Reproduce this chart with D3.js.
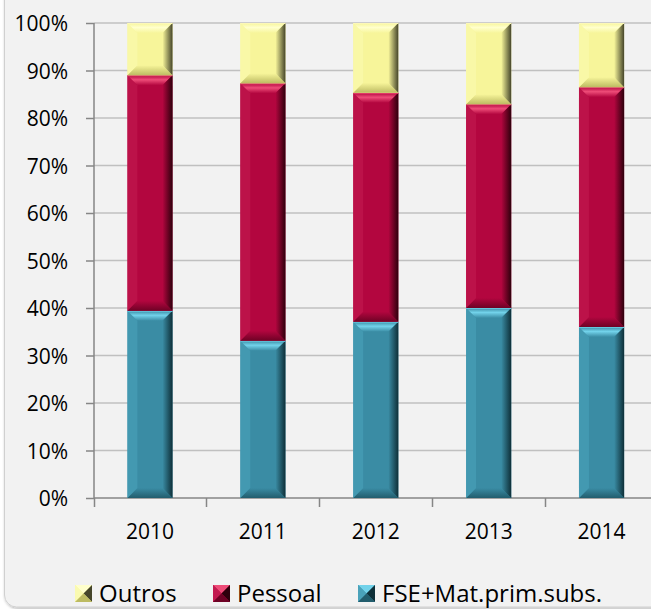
<!DOCTYPE html>
<html><head><meta charset="utf-8">
<script src="https://cdn.jsdelivr.net/npm/d3@7/dist/d3.min.js"></script>
<style>html,body{margin:0;padding:0;background:#fff;}svg{display:block;}</style>
</head><body>
<script>
const years = ["2010","2011","2012","2013","2014"];
const fse = [39.4, 33.1, 37.1, 40.0, 36.0];
const pessoal = [49.6, 54.2, 48.2, 42.9, 50.5];
const outros = [11.0, 12.7, 14.7, 17.1, 13.5];
const seriesNames = ["FSE+Mat.prim.subs.", "Pessoal", "Outros"];
const legendOrder = ["Outros", "Pessoal", "FSE+Mat.prim.subs."];
const yTicks = [0,10,20,30,40,50,60,70,80,90,100];

const W = 651, H = 609;
const FONT = "'Open Sans', 'Noto Sans', sans-serif";
const svg = d3.select("body").append("svg").attr("width", W).attr("height", H)
  .style("font-family", FONT);

const defs = svg.append("defs");
const f = defs.append("filter").attr("id","sh").attr("x","-5%").attr("y","-5%").attr("width","110%").attr("height","110%");
f.append("feDropShadow").attr("dx",1).attr("dy",1).attr("stdDeviation",1.5).attr("flood-color","#000").attr("flood-opacity",0.35);

svg.append("rect").attr("x",4.5).attr("y",-20).attr("width",680).attr("height",627)
  .attr("rx",12).attr("fill","#f2f2f2").attr("stroke","#d0d0d0").attr("stroke-width",1)
  .attr("filter","url(#sh)");

const x = d3.scaleBand().domain(years).range([93.5, 658]).padding(0);
const y = d3.scaleLinear().domain([0,100]).range([498, 23]);

// gridlines
svg.append("g").selectAll("line").data(yTicks.filter(d=>d>0)).join("line")
  .attr("x1",94).attr("x2",W).attr("y1",d=>y(d)).attr("y2",d=>y(d))
  .attr("stroke","#c0c0c0").attr("stroke-width",1.5);

// y axis
const yAxis = d3.axisLeft(y).tickValues(yTicks).tickFormat(d=>d+"%").tickSize(8).tickPadding(18);
const gy = svg.append("g").attr("transform","translate(94,0)").call(yAxis);
gy.selectAll("path,line").attr("stroke","#868686").attr("stroke-width",1.5);
gy.selectAll("text").attr("font-size",21).attr("fill","#000").attr("font-family",FONT).attr("dy","0.36em");
gy.select(".domain").attr("d","M0,"+y(100)+"V"+y(0));

// x axis
const xAxis = d3.axisBottom(x).tickSize(0).tickPadding(0);
const gx = svg.append("g").attr("transform","translate(0,498)").call(xAxis);
gx.select(".domain").attr("d","M94,0H"+W).attr("stroke","#868686").attr("stroke-width",1.5);
gx.selectAll("text").attr("font-size",21).attr("fill","#000").attr("y",41).attr("dy",0).attr("font-family",FONT);
// x tick marks at band boundaries
const bounds = years.map(d=>x(d)).concat([x(years[years.length-1])+x.bandwidth()]);
svg.append("g").selectAll("line").data(bounds).join("line")
  .attr("x1",d=>Math.round(d)+0.5).attr("x2",d=>Math.round(d)+0.5).attr("y1",498).attr("y2",507)
  .attr("stroke","#868686").attr("stroke-width",1.5);

const palettes = {
  "FSE+Mat.prim.subs.": {base:"#3a8ca4", top:"#72d2ea", left:"#4aa2ba", right:"#0e2f38", bottom:"#225d6d", line:"#65c6dd"},
  "Pessoal": {base:"#b3063f", top:"#ee4c78", left:"#c21a50", right:"#2e000c", bottom:"#6e0225", line:"#e8426e"},
  "Outros": {base:"#f7f59a", top:"#ffffcc", left:"#fafab0", right:"#45452a", bottom:"#bdbb62", line:"#fcf8b8"}
};
Object.entries(palettes).forEach(([k,p],i)=>{
  const g = defs.append("linearGradient").attr("id","rg"+i).attr("x1","0").attr("x2","1").attr("y1","0").attr("y2","0");
  g.append("stop").attr("offset","0").attr("stop-color",p.base);
  g.append("stop").attr("offset","1").attr("stop-color",p.right);
  p.rid = "rg"+i;
  const t = defs.append("linearGradient").attr("id","tg"+i).attr("x1","0").attr("x2","0").attr("y1","0").attr("y2","1");
  t.append("stop").attr("offset","0").attr("stop-color",p.base);
  t.append("stop").attr("offset","0.45").attr("stop-color",p.top);
  t.append("stop").attr("offset","1").attr("stop-color",p.base);
  p.tid = "tg"+i;
  const b = defs.append("linearGradient").attr("id","bg"+i).attr("x1","0").attr("x2","0").attr("y1","0").attr("y2","1");
  b.append("stop").attr("offset","0").attr("stop-color",p.base);
  b.append("stop").attr("offset","1").attr("stop-color",p.bottom);
  p.bid = "bg"+i;
});

const data = years.map((yr,i)=>({year:yr, "FSE+Mat.prim.subs.":fse[i], "Pessoal":pessoal[i], "Outros":outros[i]}));
const stack = d3.stack().keys(seriesNames).offset(d3.stackOffsetExpand)(data);

const barW = x.bandwidth()*0.4;
const gb = svg.append("g");
stack.forEach(layer=>{
  const p = palettes[layer.key];
  layer.forEach(d=>{
    const cx = x(d.data.year) + x.bandwidth()/2;
    const x0 = cx - barW/2, x1 = cx + barW/2;
    const yt = y(d[1]*100), yb = y(d[0]*100);
    const h = yb - yt;
    const b = Math.min(10, h/2);
    const g = gb.append("g");
    g.append("rect").attr("x",x0).attr("y",yt).attr("width",barW).attr("height",h).attr("fill",p.base);
    g.append("path").attr("d",`M${x0},${yb}L${x1},${yb}L${x1-b},${yb-b}L${x0+b},${yb-b}Z`).attr("fill",`url(#${p.bid})`);
    g.append("path").attr("d",`M${x0},${yt}L${x0+b},${yt+b}L${x0+b},${yb-b}L${x0},${yb}Z`).attr("fill",p.left).attr("opacity",0.6);
    g.append("path").attr("d",`M${x0},${yt}L${x1},${yt}L${x1-b},${yt+b}L${x0+b},${yt+b}Z`).attr("fill",`url(#${p.tid})`);
    g.append("path").attr("d",`M${x1},${yt}L${x1},${yb}L${x1-b},${yb-b}L${x1-b},${yt+b}Z`).attr("fill",`url(#${p.rid})`);
    g.append("line").attr("x1",x0).attr("x2",x1).attr("y1",yt+0.5).attr("y2",yt+0.5).attr("stroke",p.line).attr("stroke-width",1);
  });
});

// legend
const legendX = {"Outros":75, "Pessoal":213, "FSE+Mat.prim.subs.":358};
const lg = svg.append("g");
legendOrder.forEach(k=>{
  const p = palettes[k];
  const lx = legendX[k], ly = 585, s = 17;
  const c = lx + s/2, m = ly + s/2;
  lg.append("rect").attr("x",lx).attr("y",ly).attr("width",s).attr("height",s).attr("fill",p.base);
  lg.append("path").attr("d",`M${lx},${ly}L${lx+s},${ly}L${c},${m}Z`).attr("fill",p.top);
  lg.append("path").attr("d",`M${lx},${ly}L${c},${m}L${lx},${ly+s}Z`).attr("fill",p.left);
  lg.append("path").attr("d",`M${lx+s},${ly}L${lx+s},${ly+s}L${c},${m}Z`).attr("fill",p.right);
  lg.append("path").attr("d",`M${lx},${ly+s}L${lx+s},${ly+s}L${c},${m}Z`).attr("fill",p.bottom);
  lg.append("text").attr("x",lx+s+7).attr("y",m).attr("dy","0.36em").attr("font-size",24).attr("fill","#000").text(k);
});
</script>
</body></html>
